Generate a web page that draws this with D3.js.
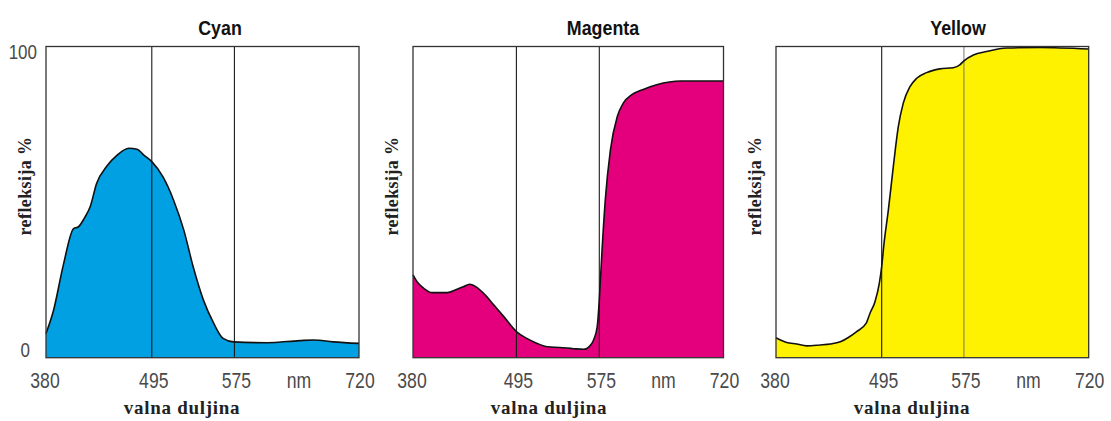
<!DOCTYPE html>
<html>
<head>
<meta charset="utf-8">
<script src="https://cdn.jsdelivr.net/npm/d3@7"></script>
<style>
  html, body { margin: 0; padding: 0; background: #fff; }
  svg { display: block; }
</style>
</head>
<body>
<svg id="chart" width="1111" height="421"></svg>
<script>
// ---- data ----
const titles = ["Cyan", "Magenta", "Yellow"];
const xTicks = [380, 495, 575, 720];
const yTicks = [0, 100];
const unitLabel = "nm";
const xTitle = "valna duljina";
const yTitle = "refleksija %";

const cyanNm  = [380, 388, 399, 410, 415, 422, 428, 435, 446, 457, 470, 479, 486, 495, 506, 516, 526, 535, 545, 555, 564, 574, 613, 651, 667, 690, 720];
const cyanVal = [7.8, 15, 30, 41.5, 42, 45, 48.5, 56, 61.5, 65, 67.3, 67, 65.2, 63, 58, 50.7, 41, 29.3, 18.5, 11, 6.2, 5.1, 4.8, 5.5, 5.7, 5.1, 4.6];

const magentaNm  = [380, 384.5, 392, 401, 418, 429, 436, 443, 451, 460.5, 470, 481, 495, 505, 515, 525, 537, 550, 560, 565, 569.5, 573, 575, 578, 582, 588, 596, 603, 613, 627, 642, 670, 720];
const magentaVal = [26.6, 24.4, 22.3, 20.9, 20.9, 22, 22.8, 23.6, 22.6, 20.1, 16.9, 13.2, 8.4, 6.2, 4.6, 3.5, 3.3, 2.9, 2.7, 3.5, 5.7, 10, 18.5, 33.5, 50.7, 66.8, 77.5, 81.8, 84.5, 86.3, 87.7, 88.9, 88.9];

const yellowNm  = [380, 391.6, 402.5, 413.4, 428, 439, 450, 458.7, 467.8, 478, 482.3, 487.7, 492.4, 495, 497.3, 501.5, 506.3, 511.2, 516, 522.5, 529, 538.7, 551.7, 564.6, 571, 575, 586, 601.4, 624.6, 663.4, 720];
const yellowVal = [6.4, 4.9, 4.4, 3.8, 4.1, 4.4, 5.1, 6.5, 8.4, 11, 14.3, 18, 23.9, 29.3, 36.8, 47.5, 61.4, 74.3, 81.8, 87.1, 89.8, 91.6, 92.8, 93.2, 94.1, 95.4, 97.3, 98.4, 99.5, 99.7, 99.2];

const seriesNm  = [cyanNm, magentaNm, yellowNm];
const seriesVal = [cyanVal, magentaVal, yellowVal];

// ---- layout / style ----
const fills = ["#00a0e2", "#e4007c", "#fff200"];
const panels = [
  {left: 46,  right: 359,   f1: 0.338, f2: 0.602, titleX: 220},
  {left: 413, right: 723.5, f1: 0.333, f2: 0.600, titleX: 603},
  {left: 776, right: 1088.7,f1: 0.338, f2: 0.601, titleX: 958}
];
const plotTop = 46.5, plotBottom = 357.7;

const svg = d3.select("#chart");
const y = d3.scaleLinear().domain([0, 100]).range([plotBottom, plotTop]);

panels.forEach((p, i) => {
  const W = p.right - p.left;
  const x = d3.scaleLinear()
    .domain(xTicks)
    .range([p.left, p.left + p.f1 * W, p.left + p.f2 * W, p.right]);

  const g = svg.append("g");
  const pts = seriesNm[i].map((d, k) => [d, seriesVal[i][k]]);

  const area = d3.area()
    .x(d => x(d[0])).y0(y(0)).y1(d => y(d[1]))
    .curve(d3.curveMonotoneX);
  const line = d3.line()
    .x(d => x(d[0])).y(d => y(d[1]))
    .curve(d3.curveMonotoneX);

  g.append("path").datum(pts).attr("d", area).attr("fill", fills[i]);

  // vertical lines at 495 / 575
  g.selectAll("line.v").data([495, 575]).join("line")
    .attr("x1", d => x(d)).attr("x2", d => x(d))
    .attr("y1", plotTop).attr("y2", plotBottom)
    .attr("stroke", (d) => (i === 2 && d === 575) ? "#666" : "#1a1a1a")
    .attr("stroke-width", (d) => (i === 2 && d === 575) ? 0.9 : 1.1);

  g.append("path").datum(pts).attr("d", line)
    .attr("fill", "none").attr("stroke", "#111").attr("stroke-width", 1.6)
    .attr("stroke-linejoin", "round");

  // frame
  g.append("rect")
    .attr("x", p.left).attr("y", plotTop)
    .attr("width", W).attr("height", plotBottom - plotTop)
    .attr("fill", "none").attr("stroke", "#333").attr("stroke-width", 1.3);

  // x-axis tick labels
  const xa = d3.axisBottom(x).tickValues(xTicks).tickSize(0).tickPadding(0);
  const ag = g.append("g").call(xa);
  ag.select(".domain").remove();
  ag.selectAll(".tick").each(function(d) {
    const t = d3.select(this);
    t.attr("transform", null);
    t.select("text")
      .attr("x", 0).attr("y", 0).attr("dy", 0)
      .attr("transform", `translate(${x(d) + (d === 720 ? 1 : d === 380 ? -1 : 2)},${plotBottom + 30}) scale(0.8,1)`)
      .attr("font-family", "Liberation Sans, Arial, sans-serif")
      .attr("font-size", 22).attr("fill", "#4a4a4a")
      .attr("text-anchor", "middle");
  });

  // unit label
  g.append("text")
    .attr("transform", `translate(${x(650)},${plotBottom + 30}) scale(0.8,1)`)
    .attr("text-anchor", "middle")
    .attr("font-family", "Liberation Sans, Arial, sans-serif")
    .attr("font-size", 22).attr("fill", "#4a4a4a")
    .text(unitLabel);

  // title
  g.append("text")
    .attr("transform", `translate(${p.titleX},35) scale(0.85,1)`)
    .attr("text-anchor", "middle")
    .attr("font-family", "Liberation Sans, Arial, sans-serif")
    .attr("font-weight", "bold")
    .attr("font-size", 21).attr("fill", "#111")
    .text(titles[i]);

  // x title
  g.append("text")
    .attr("x", p.left + 136).attr("y", 414)
    .attr("text-anchor", "middle")
    .attr("font-family", "Liberation Serif, DejaVu Serif, serif")
    .attr("font-weight", "bold")
    .attr("font-size", 19).attr("fill", "#222")
    .attr("letter-spacing", 0.7)
    .text(xTitle);

  // y title
  g.append("text")
    .attr("transform", `translate(${p.left - 15},186) rotate(-90)`)
    .attr("text-anchor", "middle")
    .attr("font-family", "Liberation Serif, DejaVu Serif, serif")
    .attr("font-weight", "bold")
    .attr("font-size", 18).attr("fill", "#222")
    .attr("letter-spacing", 0.4)
    .text(yTitle);

  // y tick labels only on first panel
  if (i === 0) {
    g.selectAll("text.yt").data(yTicks).join("text")
      .attr("class", "yt")
      .attr("transform", d => `translate(${d === 100 ? 37 : 30},${y(d) + (d === 100 ? 12 : -1)}) scale(0.85,1)`)
      .attr("text-anchor", "end")
      .attr("font-family", "Liberation Sans, Arial, sans-serif")
      .attr("font-size", 20).attr("fill", "#4a4a4a")
      .text(d => d);
  }
});
</script>
</body>
</html>
